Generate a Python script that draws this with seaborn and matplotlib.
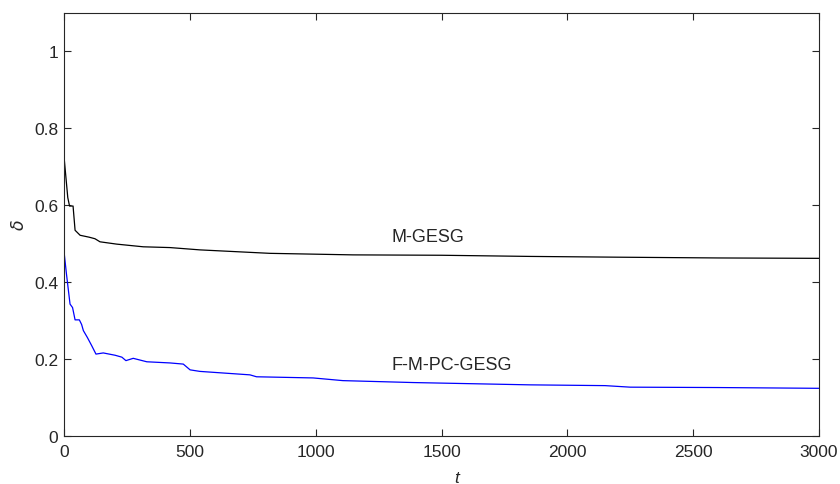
import matplotlib
matplotlib.use("Agg")
import matplotlib.pyplot as plt
import seaborn as sns
import pandas as pd

# valores
t_mgesg = [0, 15, 22, 36, 44, 64, 100, 123, 143, 209, 315, 421, 540, 818,
           1149, 1500, 1852, 2200, 2600, 3000]
d_mgesg = [0.727, 0.62, 0.598, 0.598, 0.535, 0.522, 0.517, 0.513, 0.505, 0.499,
           0.492, 0.490, 0.484, 0.475, 0.471, 0.470, 0.467, 0.465, 0.463, 0.462]

t_fmpc = [0, 10, 24, 34, 44, 61, 70, 77, 93, 110, 127, 156, 203, 230, 246, 275,
          329, 421, 474, 501, 540, 739, 765, 990, 1108, 1387, 1852, 2150, 2250,
          2600, 3000]
d_fmpc = [0.480, 0.420, 0.343, 0.334, 0.302, 0.302, 0.290, 0.274, 0.256, 0.235,
          0.213, 0.216, 0.210, 0.205, 0.196, 0.202, 0.193, 0.190, 0.187, 0.172,
          0.168, 0.159, 0.154, 0.151, 0.144, 0.139, 0.133, 0.131, 0.127, 0.126,
          0.124]

x_ticks = [0, 500, 1000, 1500, 2000, 2500, 3000]
y_ticks = [0, 0.2, 0.4, 0.6, 0.8, 1.0]
y_tick_labels = ["0", "0.2", "0.4", "0.6", "0.8", "1"]

sns.set_style("ticks")
plt.rcParams["font.family"] = ["Liberation Sans", "DejaVu Sans"]
plt.rcParams["mathtext.fontset"] = "dejavusans"

df1 = pd.DataFrame({"t": t_mgesg, "delta": d_mgesg})
df2 = pd.DataFrame({"t": t_fmpc, "delta": d_fmpc})

fig = plt.figure(figsize=(8.4, 4.85), dpi=100)
ax = fig.add_axes([64 / 840, 48 / 485, 755 / 840, 423 / 485])

sns.lineplot(data=df1, x="t", y="delta", color="black", lw=0.9, ax=ax, sort=False)
sns.lineplot(data=df2, x="t", y="delta", color="#0000FF", lw=0.9, ax=ax, sort=False)

ax.text(1300, 0.519, "M-GESG", fontsize=13, va="center", ha="left")
ax.text(1300, 0.187, "F-M-PC-GESG", fontsize=13, va="center", ha="left")

ax.set_xlim(0, 3000)
ax.set_ylim(0, 1.1)
ax.set_xticks(x_ticks)
ax.set_yticks(y_ticks)
ax.set_yticklabels(y_tick_labels)
ax.tick_params(direction="in", length=5, width=0.8, top=True, right=True,
               labelsize=12.5, colors="#262626")
ax.tick_params(axis="x", pad=6)
ax.tick_params(axis="y", pad=4)
for s in ax.spines.values():
    s.set_visible(True)
    s.set_linewidth(0.8)
    s.set_color("#262626")

ax.set_xlabel("t", fontsize=12.5, style="italic", color="#262626")
ax.set_ylabel(r"$\delta$", fontsize=12.5, color="#262626")
ax.xaxis.set_label_coords(0.52, -0.08)
ax.yaxis.set_label_coords(-0.049, 0.5)

fig.savefig("out.png", dpi=100)
